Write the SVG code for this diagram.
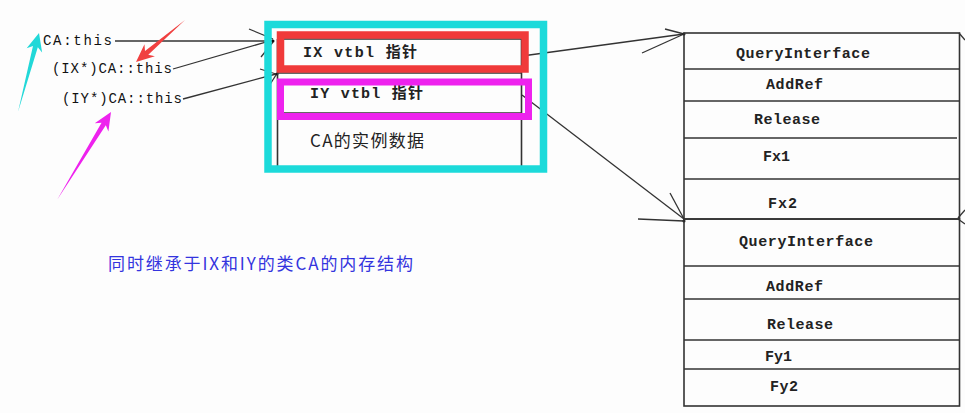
<svg xmlns="http://www.w3.org/2000/svg" width="965" height="413" viewBox="0 0 965 413">
<style>
.bg{fill:#fdfdfd}
.conn line{stroke:#333;stroke-width:1.3;fill:none}
.dot{fill:#111}
.lbl{font-family:"Liberation Mono",monospace;font-size:14px;fill:#111}
.cell{font-family:"Liberation Mono","Noto Sans CJK SC",monospace;font-size:15px;font-weight:bold;fill:#222}
.cjk{font-family:"Noto Sans CJK SC",sans-serif;font-size:17px;fill:#222}
.tbl{fill:none;stroke:#333;stroke-width:1.6}
.sep{stroke:#333;stroke-width:1.3}
.cap{font-family:"Noto Sans CJK SC",sans-serif;font-size:17px;fill:#3434de}
</style>
<rect class="bg" x="0" y="0" width="965" height="413"/>

<g id="connectors" class="conn">
  <line x1="115" y1="41" x2="273" y2="41"/>
  <line x1="173" y1="69" x2="273" y2="40"/>
  <line x1="183" y1="99" x2="276" y2="74"/>
  <line x1="249" y1="29" x2="273" y2="39"/>
  <line x1="261" y1="57" x2="273" y2="42"/>
  <line x1="260" y1="69" x2="276" y2="74"/>
  <line x1="269" y1="86" x2="276" y2="75"/>
  <line x1="522" y1="56" x2="684" y2="34"/>
  <line x1="665" y1="29" x2="684" y2="34"/>
  <line x1="642" y1="53" x2="684" y2="34"/>
  <line x1="522" y1="95" x2="684" y2="219"/>
  <line x1="670" y1="193" x2="684" y2="219"/>
  <line x1="638" y1="219" x2="684" y2="221"/>
  <line x1="959" y1="33" x2="965" y2="40"/>
  <line x1="958" y1="218" x2="965" y2="210"/>
  <line x1="958" y1="219" x2="965" y2="224"/>
  <circle class="dot" cx="273" cy="41" r="1.5"/>
  <circle class="dot" cx="277" cy="74" r="1.5"/>
  <circle class="dot" cx="684" cy="34" r="1.5"/>
  <circle class="dot" cx="684" cy="221" r="1.5"/>
</g>

<g id="ca-this"><text class="lbl" x="43" y="45" textLength="69" lengthAdjust="spacing">CA:this</text></g>
<g id="ix-this"><text class="lbl" x="52" y="73" textLength="120" lengthAdjust="spacing">(IX*)CA::this</text></g>
<g id="iy-this"><text class="lbl" x="62" y="103" textLength="120" lengthAdjust="spacing">(IY*)CA::this</text></g>

<g id="ca-object">
  <line class="sep" x1="277" y1="39" x2="522" y2="39"/>
  <line class="sep" x1="277" y1="73" x2="522" y2="73"/>
  <line class="sep" x1="277" y1="113" x2="522" y2="113"/>
  <line class="tbl" x1="277.5" y1="39" x2="277.5" y2="167"/>
  <line class="tbl" x1="521.5" y1="39" x2="521.5" y2="167"/>
  <text class="cell" x="303" y="57" textLength="114" lengthAdjust="spacing">IX vtbl 指针</text>
  <text class="cell" x="310" y="98" textLength="113" lengthAdjust="spacing">IY vtbl 指针</text>
  <text class="cjk" x="310" y="147" textLength="114" lengthAdjust="spacing">CA的实例数据</text>
</g>

<g id="vtbl-ix">
  <rect class="tbl" x="684" y="33" width="275.5" height="186"/>
  <line class="sep" x1="684" y1="69" x2="959" y2="69"/>
  <line class="sep" x1="684" y1="101" x2="959" y2="101"/>
  <line class="sep" x1="684" y1="138" x2="957" y2="138"/>
  <line class="sep" x1="684" y1="179" x2="959" y2="179"/>
  <text class="cell" x="736" y="58" textLength="134" lengthAdjust="spacing">QueryInterface</text>
  <text class="cell" x="766" y="89" textLength="57" lengthAdjust="spacing">AddRef</text>
  <text class="cell" x="754" y="124" textLength="66" lengthAdjust="spacing">Release</text>
  <text class="cell" x="763" y="161" textLength="27" lengthAdjust="spacing">Fx1</text>
  <text class="cell" x="768" y="208" textLength="29" lengthAdjust="spacing">Fx2</text>
</g>

<g id="vtbl-iy">
  <rect class="tbl" x="684" y="219" width="275.5" height="187"/>
  <line class="sep" x1="684" y1="266" x2="959" y2="266"/>
  <line class="sep" x1="684" y1="299" x2="959" y2="299"/>
  <line class="sep" x1="684" y1="340" x2="959" y2="340"/>
  <line class="sep" x1="684" y1="369" x2="959" y2="369"/>
  <text class="cell" x="739" y="246" textLength="134" lengthAdjust="spacing">QueryInterface</text>
  <text class="cell" x="766" y="291" textLength="57" lengthAdjust="spacing">AddRef</text>
  <text class="cell" x="767" y="329" textLength="66" lengthAdjust="spacing">Release</text>
  <text class="cell" x="765" y="361" textLength="27" lengthAdjust="spacing">Fy1</text>
  <text class="cell" x="770" y="391" textLength="28" lengthAdjust="spacing">Fy2</text>
</g>

<g id="highlights" fill="none">
  <rect x="268" y="24.5" width="275.5" height="144.5" stroke="#1cdada" stroke-width="7.5"/>
  <rect x="280.5" y="35" width="244.5" height="34" stroke="#f03a3a" stroke-width="7.5"/>
  <rect x="280.5" y="82" width="248" height="34.5" stroke="#ee22ee" stroke-width="7"/>
</g>

<g id="pointers">
  <polygon fill="#22d8d8" points="18,112 32.98,45.9 26.63,48.35 39,33 42.11,52.47 37.82,47.18"/>
  <polygon fill="#f04040" points="185,20 148.27,54.79 154.89,56.36 136,62 144.47,44.2 145.01,50.99"/>
  <polygon fill="#ee22ee" points="57,200 101.55,122.63 94.77,123.17 111,112 108.41,131.53 105.81,125.25"/>
</g>

<g id="caption"><text class="cap" x="108" y="270" textLength="305" lengthAdjust="spacing">同时继承于IX和IY的类CA的内存结构</text></g>
</svg>
